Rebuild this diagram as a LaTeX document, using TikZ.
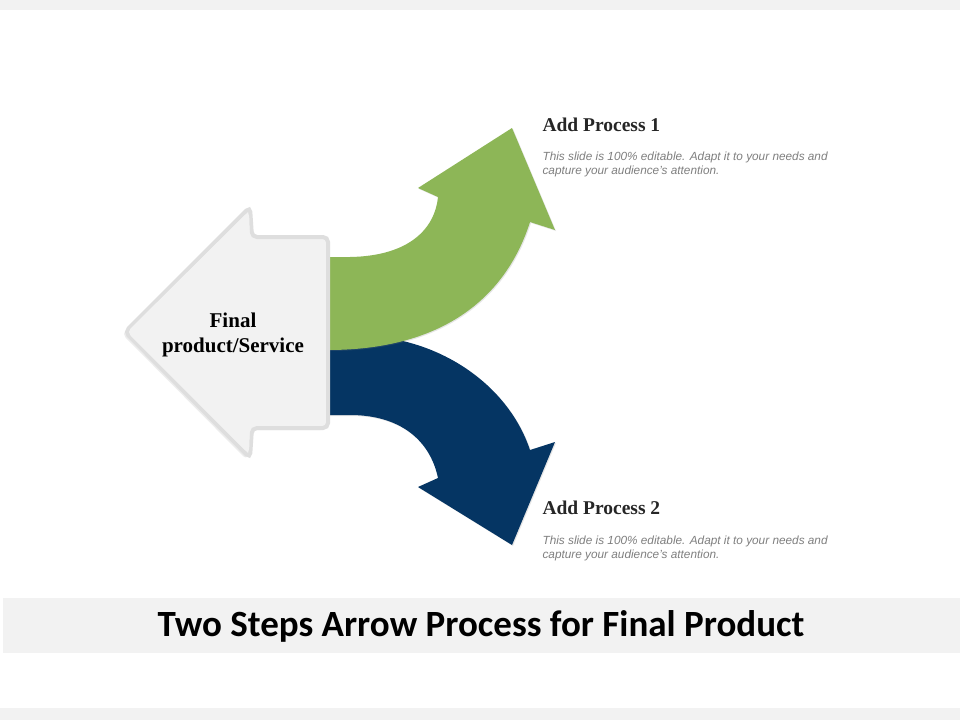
\documentclass[tikz,border=0pt]{standalone}
\usepackage{fontspec}
\setmainfont{Liberation Serif}
\setsansfont{Liberation Sans}
\newfontfamily\titlefont{Carlito}
\usetikzlibrary{shadows}
\definecolor{grn}{HTML}{8DB657}
\definecolor{blu}{HTML}{053563}
\definecolor{lgray}{HTML}{F2F2F2}
\definecolor{edge}{HTML}{DEDEDE}
\definecolor{txtgray}{HTML}{7F7F7F}
\tikzset{
  head/.style={anchor=west,font=\bfseries\fontsize{19.5}{22}\selectfont,text=black!85},
  body/.style={anchor=north west,align=left,font=\sffamily\itshape\fontsize{11.8}{14}\selectfont,text=txtgray},
}
\begin{document}
\begin{tikzpicture}[x=1pt,y=-1pt]
\useasboundingbox (0,0) rectangle (960,720);
\fill[white] (0,0) rectangle (960,720);
\fill[lgray] (0,0) rectangle (960,10);
\fill[lgray] (0,708) rectangle (960,720);
\fill[lgray] (3,598) rectangle (960,653);
\node (title) at (481,626) {\titlefont\bfseries\fontsize{37}{40}\selectfont Two Steps Arrow Process for Final Product};
% blue arrow
\fill[blu, drop shadow={opacity=0.2,shadow xshift=1pt,shadow yshift=-1pt}] (328,337) -- (380,337) .. controls (450,345) and (510,390) .. (530,450) -- (555,442) -- (512,545) -- (418,487) -- (438,478) .. controls (430,440) and (400,415) .. (350,415) -- (328,415) -- cycle;
% green arrow
\fill[grn, drop shadow={opacity=0.2,shadow xshift=1pt,shadow yshift=-1pt}] (328,257) -- (350,257) .. controls (410,256) and (435,228) .. (438,197) -- (418,188) -- (512,128) -- (555,230) -- (530,222) .. controls (505,300) and (440,350) .. (328,350) -- cycle;
% gray arrow
\draw[edge, line width=4pt, fill=lgray, rounded corners=5pt, drop shadow={opacity=0.15,shadow xshift=-3pt,shadow yshift=-2pt}]
  (125,332) -- (250,207) -- (252,237) -- (328,237) -- (328,428) -- (252,428) -- (250,458) -- cycle;
\fill[lgray, rounded corners=5pt] (127,332) -- (249,211) -- (250,240) -- (325,240) -- (325,425) -- (250,425) -- (249,454) -- cycle;
\node[align=center,font=\bfseries\fontsize{21}{25}\selectfont] (fp) at (233,335) {Final\\product/Service};
\node[head] (h1) at (539,125) {Add Process 1};
\node[body] (b1) at (539,148) {This slide is 100\% editable. Adapt it to your needs and\\capture your audience's attention.};
\node[head] (h2) at (539,508) {Add Process 2};
\node[body] (b2) at (539,532) {This slide is 100\% editable. Adapt it to your needs and\\capture your audience's attention.};
\end{tikzpicture}
\end{document}
